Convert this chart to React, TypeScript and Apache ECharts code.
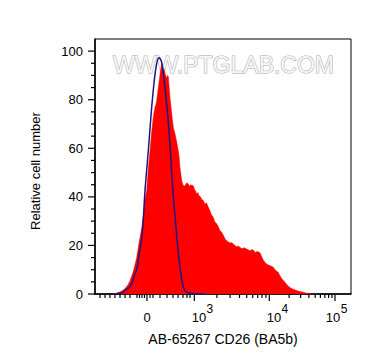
import React, { useEffect, useRef } from "react";
import * as echarts from "echarts";

const FONT = "'Liberation Sans', Arial, Helvetica, sans-serif";

// Histogram of the stained sample (x in display channels 0-256, y relative count)
const sampleChannel = [18, 22, 26, 30, 33, 35, 38, 40, 41.7, 44, 46.7, 48.5, 50, 51.7, 53, 55, 56.5, 58.3, 60, 61, 61.7, 63, 64.3, 65.5, 66.7, 67.5, 68.3, 69, 70, 71, 71.7, 72.5, 73.3, 74, 75, 76.5, 78.3, 79, 80, 81.5, 83.3, 84, 85, 86.7, 88, 89, 90, 91.5, 92.5, 93.3, 94.5, 95.5, 96.5, 98.3, 99.5, 100.5, 101.7, 103, 104, 105.5, 107, 108.3, 110, 111.5, 113, 115, 116.5, 118, 120, 121.5, 123, 125, 126.5, 128, 130, 131.5, 133, 135, 136.5, 138.3, 140, 141.5, 143, 145, 147, 149, 151.7, 153, 155, 157, 158.5, 160, 162, 163.5, 165, 166.5, 168, 170, 172, 174, 176, 178.3, 180, 181.5, 183.3, 185, 187, 190, 192, 194, 196, 198.3, 201, 203, 206, 208.3, 211, 214, 218];
const sampleCount = [0, 0.4, 1, 2.2, 3.8, 5.5, 9, 12, 15, 21, 27, 33, 39, 42.6, 50, 59, 66, 72.8, 77, 78, 79.7, 84, 88, 92, 94.8, 93.5, 92, 92.8, 91, 89.5, 89, 90, 89.5, 86, 81, 75, 68.7, 67.5, 66, 63, 59, 57, 52, 46.7, 45, 44.5, 44.6, 45.8, 45.5, 45.3, 44.3, 45, 44.8, 44.6, 43, 42.5, 41.2, 41.8, 40.5, 40, 38.8, 38.5, 37, 37.6, 36, 34.3, 32.5, 31.8, 29.5, 29, 28, 26, 25.5, 24.5, 22.7, 22, 21.5, 21, 21.2, 20.6, 20, 19.5, 19.8, 19.2, 18.6, 19, 18.5, 18.2, 17.8, 18.3, 18, 17.1, 17.5, 17.3, 17, 15.5, 14.2, 13, 12.2, 11.8, 11.5, 11, 10, 9.5, 8.9, 7.5, 6.2, 4.8, 3.8, 3, 2.4, 2, 1.5, 1.2, 0.9, 0.7, 0.4, 0.2, 0];

// Histogram of the isotype control
const controlChannel = [20, 25, 28, 31, 35, 37, 38.5, 40, 41.7, 43, 44, 45.5, 46.7, 48, 48.5, 50, 51.7, 53.3, 55, 56.7, 58.3, 60, 61.3, 62.3, 63.3, 64.3, 65.3, 66.7, 68.3, 70, 71.7, 73.3, 75, 76.7, 78.3, 80, 81.7, 83.3, 85, 86.7, 88.3, 90, 92, 95, 100, 110];
const controlCount = [0, 0.3, 0.8, 1.8, 3, 4.5, 6.5, 8.5, 10, 13, 16, 19.5, 23, 29, 32, 42.6, 51, 59, 68, 77, 84, 90.5, 94, 96, 97, 97.3, 96.8, 95.5, 91, 85, 78, 71, 61, 50, 40.5, 32, 24, 17, 11, 6, 3, 1.5, 0.7, 0.3, 0.1, 0];

// x axis (biexponential display, positions in channels)
const xMajorTicks = [52, 99.3, 174.3, 240];
const xTickBase = ["0", "10", "10", "10"];
const xTickExp = ["", "3", "4", "5"];
const xMinorTicks = [5, 10, 15, 20, 25, 30, 35, 42, 44.5, 47, 49.5, 55, 58, 65, 72, 78, 83, 88, 92, 95, 121.9, 135.1, 144.5, 151.7, 157.7, 162.7, 167, 170.9, 194.1, 205.6, 213.9, 220.2, 225.4, 229.8, 233.6, 237];

// y axis
const yMajorTicks = [0, 20, 40, 60, 80, 100];
const yMinorTicks = [5, 10, 15, 25, 30, 35, 45, 50, 55, 65, 70, 75, 85, 90, 95];

const X_MAX = 256;
const Y_MAX = 105;

const tickStyle = { stroke: "#000", lineWidth: 1.2 };

const staticGraphics: any[] = [
  {
    type: "text",
    id: "watermark",
    x: 223.5,
    y: 65,
    z: -1,
    silent: true,
    style: {
      text: "WWW.PTGLAB.COM",
      fontSize: 23,
      fontFamily: FONT,
      fill: "#f6f6f6",
      stroke: "#a9a9a9",
      lineWidth: 1,
      align: "center",
      verticalAlign: "middle",
    },
  },
  {
    type: "text",
    id: "ytitle",
    x: 35,
    y: 171,
    rotation: Math.PI / 2,
    style: {
      text: "Relative cell number",
      fontSize: 13,
      fontFamily: FONT,
      fill: "#000",
      align: "center",
      verticalAlign: "middle",
    },
  },
  {
    type: "text",
    id: "xtitle",
    x: 223,
    y: 339,
    style: {
      text: "AB-65267 CD26 (BA5b)",
      fontSize: 14,
      fontFamily: FONT,
      fill: "#000",
      align: "center",
      verticalAlign: "middle",
    },
  },
];

export default function App() {
  const ref = useRef<HTMLDivElement>(null);
  useEffect(() => {
    const chart = echarts.init(ref.current as HTMLDivElement, null, { renderer: "svg" });
    const option: any = {
      animation: false,
      grid: {
        left: 95,
        top: 39,
        width: 256,
        height: 255,
        show: true,
        borderColor: "#000",
        borderWidth: 1,
        backgroundColor: "transparent",
      },
      xAxis: {
        type: "value",
        min: 0,
        max: X_MAX,
        axisLine: { show: true, lineStyle: { color: "#000", width: 1.5 } },
        axisTick: { show: false },
        axisLabel: { show: false },
        splitLine: { show: false },
      },
      yAxis: {
        type: "value",
        min: 0,
        max: Y_MAX,
        axisLine: { show: true, lineStyle: { color: "#000", width: 1.5 } },
        axisTick: { show: false },
        axisLabel: { show: false },
        splitLine: { show: false },
      },
      graphic: staticGraphics,
      series: [
        {
          type: "line",
          name: "CD26",
          data: sampleChannel.map((c, i) => [c, sampleCount[i]]),
          showSymbol: false,
          lineStyle: { color: "#ff0000", width: 0.5 },
          areaStyle: { color: "#ff0000", opacity: 1 },
          z: 2,
        },
        {
          type: "line",
          name: "Isotype",
          data: controlChannel.map((c, i) => [c, controlCount[i]]),
          showSymbol: false,
          smooth: 0.3,
          lineStyle: { color: "#1c1683", width: 1.5 },
          z: 3,
        },
        {
          type: "custom",
          name: "xMinor",
          clip: false,
          silent: true,
          data: xMinorTicks.map((v) => [v, 0]),
          renderItem: (_p: any, api: any) => {
            const p = api.coord([api.value(0), 0]);
            return { type: "line", shape: { x1: p[0], y1: p[1], x2: p[0], y2: p[1] + 4 }, style: tickStyle };
          },
        },
        {
          type: "custom",
          name: "xMajor",
          clip: false,
          silent: true,
          data: xMajorTicks.map((v) => [v, 0]),
          renderItem: (_p: any, api: any) => {
            const p = api.coord([api.value(0), 0]);
            return { type: "line", shape: { x1: p[0], y1: p[1], x2: p[0], y2: p[1] + 7 }, style: tickStyle };
          },
        },
        {
          type: "custom",
          name: "yMinor",
          clip: false,
          silent: true,
          data: yMinorTicks.map((v) => [0, v]),
          renderItem: (_p: any, api: any) => {
            const p = api.coord([0, api.value(1)]);
            return { type: "line", shape: { x1: p[0] - 4, y1: p[1], x2: p[0], y2: p[1] }, style: tickStyle };
          },
        },
        {
          type: "custom",
          name: "yMajor",
          clip: false,
          silent: true,
          data: yMajorTicks.map((v) => [0, v]),
          renderItem: (_p: any, api: any) => {
            const p = api.coord([0, api.value(1)]);
            return { type: "line", shape: { x1: p[0] - 7, y1: p[1], x2: p[0], y2: p[1] }, style: tickStyle };
          },
        },
      ],
    };
    chart.setOption(option);

    // Tick labels placed through the axes' own scales
    const labels: any[] = [];
    const rightEdge = chart.convertToPixel({ gridIndex: 0 }, [X_MAX, 0])[0];
    xMajorTicks.forEach((v, i) => {
      const p = chart.convertToPixel({ gridIndex: 0 }, [v, 0]);
      const base = xTickBase[i];
      const exp = xTickExp[i];
      if (!exp) {
        labels.push({
          type: "text",
          id: "xl" + i,
          x: p[0],
          y: p[1] + 23.5,
          style: { text: base, fontSize: 13, fontFamily: FONT, fill: "#000", align: "center", verticalAlign: "middle" },
        });
      } else {
        const baseW = base.length * 0.556 * 13;
        const expW = exp.length * 0.556 * 12;
        let left = p[0] - 2.6;
        const maxRight = rightEdge - 4;
        if (left + baseW + expW > maxRight) left = maxRight - baseW - expW;
        labels.push({
          type: "text",
          id: "xl" + i,
          x: left,
          y: p[1] + 23.5,
          style: { text: base, fontSize: 13, fontFamily: FONT, fill: "#000", align: "left", verticalAlign: "middle" },
        });
        labels.push({
          type: "text",
          id: "xe" + i,
          x: left + baseW + 0.3,
          y: p[1] + 14.5,
          style: { text: exp, fontSize: 12, fontFamily: FONT, fill: "#000", align: "left", verticalAlign: "middle" },
        });
      }
    });
    yMajorTicks.forEach((v, i) => {
      const p = chart.convertToPixel({ gridIndex: 0 }, [0, v]);
      labels.push({
        type: "text",
        id: "yl" + i,
        x: p[0] - 12,
        y: p[1],
        style: { text: String(v), fontSize: 13, fontFamily: FONT, fill: "#000", align: "right", verticalAlign: "middle" },
      });
    });
    chart.setOption({ graphic: staticGraphics.concat(labels) });
    return () => chart.dispose();
  }, []);
  return <div ref={ref} style={{ position: "absolute", left: 0, top: 0, width: 372, height: 364 }} />;
}
